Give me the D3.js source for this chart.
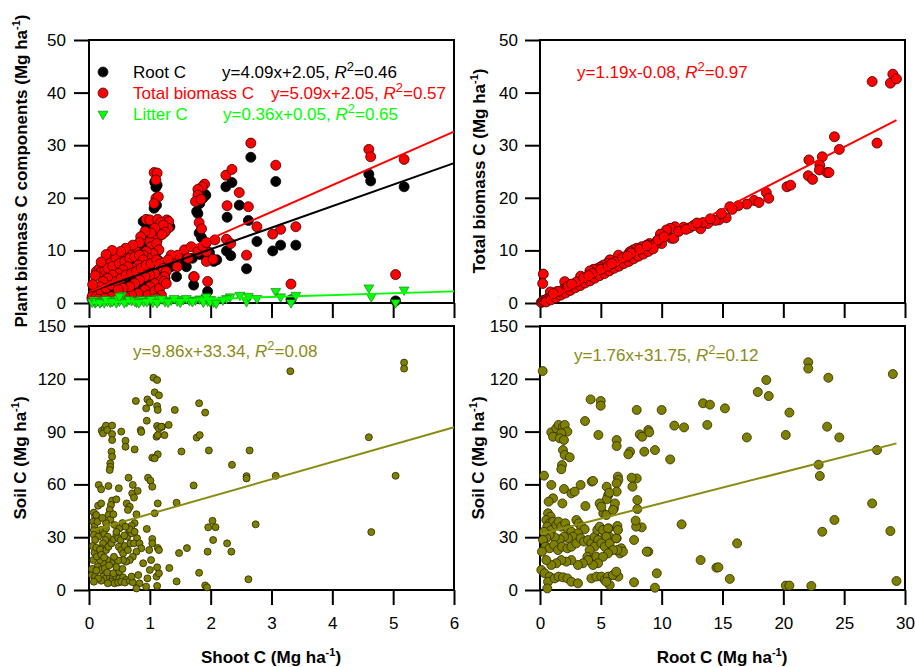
<!DOCTYPE html>
<html>
<head>
<meta charset="utf-8">
<script src="https://cdn.jsdelivr.net/npm/d3@7"></script>
<style>
  body { margin: 0; background: #fff; }
  text { font-family: Arial, "Liberation Sans", sans-serif; }
</style>
</head>
<body>
<svg id="chart" width="915" height="667"></svg>
<script>
// ---- data ----
// shoot C vs root C (black)
const shootRoot = [[2.66,27.7],[4.6,24.5],[4.63,23.2],[5.18,22.1],[3.07,23.1],[2.25,22.1],[2.35,22.9],[1.08,23.0],[1.12,22.4],[1.1,22.0],
  [1.07,18.0],[1.11,18.6],[1.77,17.4],[1.79,17.0],[1.92,20.5],[1.87,19.9],[1.82,18.9],[1.9,20.7],[2.47,18.6],[2.62,15.7],[2.27,16.3],
  [2.26,9.9],[2.33,9.0],[2.76,11.7],[3.4,11.0],[3.02,9.9],[3.15,11.0],[2.59,6.5],[1.72,3.4],[1.95,2.2],[3.32,0.6],[5.04,0.4],[1.44,5.0],
  [1.6,6.9],[1.22,5.0],[1.25,4.7],[0.89,15.5],[0.95,14.2],[0.95,15.5],[1.33,14.5],[1.81,13.3],[1.85,12.4],[1.83,9.2],[1.98,9.6],[2.05,7.9],
  [2.1,8.2],[1.96,9.0],[1.7,8.5],[1.55,8.7],[1.5,7.6],[1.35,6.9],[1.3,7.5],[1.15,8.0],[1.2,6.2],[1.1,9.5],[1.05,11.8],[1.12,13.5],[1.0,12.5],
  [0.9,10.8],[0.8,9.0],[0.7,8.2],[0.6,6.8],[0.5,6.0],[0.4,5.2],[0.3,4.0],[0.2,3.0],[0.1,1.8],[0.05,0.8],[0.15,2.5],[0.25,3.6],[0.35,4.5],
  [0.45,5.5],[0.55,6.3],[0.65,7.0],[0.75,7.8],[0.85,8.6],[0.95,9.5],[1.05,10.2],[0.2,1.2],[0.3,2.0],[0.4,2.8],[0.5,3.5],[0.6,4.2],[0.7,5.0],
  [0.8,5.5],[0.9,6.0],[1.0,7.0],[1.1,4.5],[0.98,3.8],[0.85,3.0],[0.7,2.2],[0.55,1.5],[0.4,1.0],[0.1,0.4]];

// shoot C vs total biomass C (red)
const shootTotal = [[2.66,30.4],[4.6,29.2],[4.63,27.8],[5.18,27.3],[3.07,26.2],[2.25,24.3],[2.35,25.4],[1.07,24.8],[1.12,24.7],[1.1,23.4],
  [1.1,19.9],[1.14,20.2],[1.07,18.9],[1.9,22.6],[1.86,22.1],[1.79,21.6],[1.79,20.5],[1.75,19.3],[1.84,19.7],[2.47,21.0],[2.62,18.3],
  [2.27,18.5],[2.76,14.5],[3.4,14.5],[3.15,14.0],[3.02,13.1],[1.81,15.3],[1.85,14.1],[1.92,11.3],[1.93,9.8],[2.26,12.1],[2.33,11.3],
  [2.59,9.1],[3.32,3.6],[5.04,5.4],[1.72,5.0],[1.95,4.1],[0.94,15.9],[1.0,15.8],[1.13,15.9],[1.28,15.8],[1.31,15.5],[1.3,14.2],[1.16,12.9],
  [1.12,12.0],[1.0,11.7],[1.02,10.7],[1.11,11.3],[1.15,10.1],[1.05,9.4],[0.94,9.8],[0.97,8.5],[0.89,9.1],[0.76,10.1],[0.67,9.1],[0.64,8.2],
  [0.54,8.5],[0.47,8.9],[0.34,8.5],[0.25,6.9],[0.15,5.3],[0.12,6.0],[0.32,8.0],[0.44,8.6],[0.21,5.1],[0.17,6.5],[1.42,8.2],[1.46,9.1],
  [1.57,10.1],[1.68,10.7],[1.79,9.8],[1.87,10.8],[1.93,11.5],[2.07,12.0],[1.93,7.9],[2.04,8.3],[1.73,5.0],[1.45,6.9],[1.63,8.5],[1.35,9.1],
  [1.3,8.2],[0.2,6.0],[0.26,6.3],[0.31,6.6],[0.39,7.0],[0.5,7.5],[0.59,7.9],[0.67,8.5],[0.75,8.8],[0.83,9.1],[0.89,8.2],[0.81,7.2],
  [0.72,6.6],[0.64,6.9],[0.56,6.3],[0.48,5.6],[0.39,5.3],[0.31,4.7],[0.23,4.1],[0.18,3.1],[0.09,2.5],[0.07,1.8],[0.05,1.2],[0.12,1.2],
  [0.2,2.2],[0.28,2.8],[0.37,3.4],[0.45,4.1],[0.53,4.7],[0.61,5.3],[0.7,5.6],[0.78,6.0],[0.86,6.6],[0.94,7.2],[1.02,7.5],[1.11,8.2],
  [1.16,7.4],[1.22,6.6],[1.27,6.0],[1.24,5.0],[1.16,4.4],[1.08,3.7],[1.0,3.1],[0.92,2.5],[0.81,1.8],[0.7,1.5],[0.59,1.2],[0.48,1.5],
  [0.37,1.2],[0.26,0.9],[0.15,0.7],[1.08,5.6],[1.0,5.3],[0.92,5.0],[0.83,4.4],[0.75,3.7],[0.67,3.1],[0.56,2.8],[0.48,2.5],[0.97,1.5],
  [1.08,2.2],[1.16,2.8],[1.23,4.1],[1.19,1.5],[1.11,0.9],[1.27,3.7],[1.18,15.3],[1.22,14.8],[1.25,13.5],[1.2,13.0],[1.08,14.2],[1.02,13.3],
  [0.92,13.6],[0.85,12.6],[0.83,11.5],[0.72,11.0],[0.6,10.4],[0.52,9.8],[0.38,10.0],[0.28,9.2],[0.2,7.8],[0.1,5.2],[0.06,3.5]];

// shoot C vs litter C (green)
const shootLitter = [[4.6,2.9],[4.64,1.2],[5.18,2.5],[5.04,0.1],[3.07,2.2],[3.15,1.2],[3.4,1.5],[3.32,0.1],[2.59,0.3],[2.62,1.3],[2.76,0.9],
  [2.48,1.5],[2.32,1.2],[2.26,0.9],[1.95,0.4],[2.05,0.2],[1.92,1.0],[1.82,0.8],[1.75,0.6],[1.65,0.5],[1.55,0.7],[1.45,0.4],[1.35,0.6],
  [1.25,0.3],[1.15,0.5],[1.1,0.9],[1.05,0.2],[0.98,0.6],[0.9,0.3],[0.85,0.7],[0.78,0.2],[0.7,0.5],[0.62,0.3],[0.54,1.5],[0.5,0.4],
  [0.45,0.1],[0.4,0.6],[0.35,0.2],[0.3,0.4],[0.25,0.1],[0.2,0.3],[0.15,0.5],[0.1,0.1],[0.05,0.2],[0.08,0.6],[0.12,0.3],[0.18,0.1],
  [0.28,0.7],[0.38,0.3],[0.48,0.8],[0.58,0.1],[0.66,0.7],[0.75,0.4],[0.82,0.1],[0.95,0.3],[1.02,0.7],[1.12,0.1],[1.2,0.8],[1.3,0.2],
  [1.4,0.9],[1.5,0.2],[1.6,0.9],[1.7,0.3],[1.88,0.2],[2.0,0.7],[2.1,0.4],[1.93,1.2],[1.99,0.25],[2.09,0.0],[2.2,0.6],[0.5,1.3]];

// root C vs total biomass C (red)
const rootTotal = [[27.3,42.1],[28.8,41.8],[29.0,43.5],[29.3,42.6],[27.7,30.4],[24.2,31.6],[24.6,29.2],[22.1,27.2],[23.2,27.8],[23.0,26.2],
  [22.96,25.3],[22.05,24.2],[22.4,23.5],[23.6,24.8],[23.75,24.8],[20.3,22.1],[20.6,22.4],[18.6,21.0],[18.8,19.9],[17.6,19.5],[18.0,19.1],
  [17.0,18.8],[15.6,18.3],[16.3,18.5],[15.3,16.2],[14.7,15.8],[14.4,15.7],[13.8,15.1],[13.2,14.1],[13.4,15.3],[12.3,14.3],[11.8,14.4],
  [11.1,14.5],[10.7,14.2],[10.8,12.3],[11.0,12.3],[10.4,13.9],[9.9,13.1],[10.0,11.3],[9.6,11.7],[9.0,11.3],[8.77,11.0],[8.36,10.7],
  [8.08,9.95],[7.95,10.4],[7.67,10.1],[7.4,9.76],[7.26,9.3],[7.67,8.8],[7.1,8.2],[6.85,8.5],[6.6,7.9],[6.45,9.1],[5.75,8.2],[5.5,7.5],
  [5.2,7.2],[4.93,6.8],[4.66,6.5],[4.4,6.4],[4.1,6.1],[3.34,5.1],[2.03,4.06],[0.27,5.5],[0.22,3.7],[0.85,2.1],[1.37,2.15],[1.97,2.7],
  [0.1,0.1],[0.2,0.3],[0.3,0.5],[0.4,0.4],[0.5,0.6],[0.6,0.8],[0.8,0.9],[1.0,1.2],[1.2,1.3],[1.4,1.6],[1.6,1.8],[1.8,2.0],[2.0,2.3],
  [2.2,2.5],[2.4,2.8],[2.6,3.0],[2.8,3.2],[3.0,3.4],[3.2,3.7],[3.4,3.9],[3.6,4.1],[3.8,4.4],[4.0,4.6],[4.2,4.8],[4.4,5.0],[4.6,5.3],
  [4.8,5.5],[5.0,5.8],[5.2,6.0],[5.4,6.2],[5.6,6.5],[5.8,6.7],[6.0,7.0],[6.2,7.2],[6.4,7.5],[6.7,7.8],[7.0,8.2],[7.3,8.5],[7.6,8.9],
  [7.9,9.3],[8.2,9.7],[8.5,10.0],[8.8,10.4],[9.2,10.9],[9.5,11.2],[0.5,0.2],[0.9,0.6],[1.3,1.0],[1.7,1.5],[2.1,1.9],[2.5,2.4],[2.9,2.9],
  [3.3,3.3],[3.7,3.8],[4.1,4.2],[4.5,4.7],[4.9,5.2],[5.3,5.6],[5.7,6.1],[6.1,6.6],[6.5,7.0],[6.9,7.5],[7.3,7.9],[7.7,8.4],[8.1,8.9],
  [8.5,9.3],[8.9,9.8],[9.3,10.3],[1.5,2.2],[2.3,3.2],[3.0,4.0],[3.6,4.8],[4.3,5.6],[5.0,6.4],[5.6,7.0],[6.2,7.8],[6.8,8.6],[7.5,9.5],
  [8.2,10.2],[8.8,10.9],[1.1,1.8],[2.6,3.6],[4.0,5.2],[5.9,7.5],[7.2,8.9],[9.7,12.0],[10.2,12.6],[11.4,13.6],[12.0,14.0],[12.6,14.7],
  [12.9,15.2],[14.0,16.0],[14.9,17.0],[15.8,17.8]];

// shoot C vs soil C
const shootSoil = [[3.31,124.3],[5.18,129.2],[5.18,125.8],[4.6,86.8],[5.04,64.9],[4.64,32.9],[3.07,64.9],[2.35,71.1],[2.64,79.3],[2.59,64.7],
  [2.59,63.4],[2.74,37.3],[2.62,6.1],[2.27,26.5],[2.34,21.8],[2.04,28.4],[2.03,39.3],[2.08,35.7],[1.96,35.6],[1.95,21.8],[1.91,2.6],
  [1.94,1.5],[1.81,9.8],[1.97,79.3],[1.91,100.8],[1.81,106.1],[1.77,86.6],[1.82,88.0],[1.72,59.4],[1.61,23.8],[1.48,21.0],[1.44,4.9],
  [1.44,49.6],[1.52,78.7],[1.41,102.3],[1.31,93.8],[1.24,88.0],[1.2,92.7],[1.32,12.5],[1.06,120.6],[1.12,119.3],[1.08,112.3],[1.15,110.6],
  [0.77,107.4],[0.96,108.3],[1.0,106.6],[0.94,103.2],[1.12,104.5],[1.13,102.3],[0.95,96.2],[0.85,90.9],[0.86,89.8],[1.12,93.2],[1.15,91.7],
  [1.19,92.8],[1.11,87.1],[1.13,88.0],[1.04,75.2],[1.13,77.1],[1.08,74.8],[0.21,90.5],[0.26,91.9],[0.28,93.4],[0.38,93.4],[0.23,89.0],
  [0.3,90.9],[0.38,88.6],[0.38,85.2],[0.53,90.0],[0.6,84.8],[0.6,81.4],[0.75,79.9],[0.37,78.6],[0.38,75.8],[0.35,72.0],[0.35,70.0],
  [0.34,68.2],[0.97,63.8],[1.01,62.1],[1.04,58.7],[0.65,63.8],[0.16,59.7],[0.2,57.2],[0.32,59.1],[0.49,57.8],[0.72,59.7],[0.71,54.9],
  [0.8,56.3],[0.74,52.5],[0.38,50.8],[0.36,48.3],[0.34,45.5],[0.45,51.5],[0.32,42.6],[1.13,49.2],[1.08,43.6],[0.62,49.2],[0.67,47.3],
  [0.64,45.5],[0.95,34.7],[1.04,29.0],[0.78,43.0],[0.75,38.0],[0.7,36.5],[0.66,33.0],[0.2,34.1],[0.25,31.8],[0.28,35.0],[0.31,30.3],
  [0.27,28.4],[0.23,26.5],[0.2,23.7],[0.28,22.7],[0.32,24.6],[0.37,26.5],[0.41,28.8],[0.45,31.3],[0.48,29.4],[0.52,28.4],[0.49,24.6],
  [0.53,22.7],[0.59,25.0],[0.56,20.8],[0.64,22.7],[0.68,26.5],[0.63,30.3],[0.7,32.2],[0.67,34.5],[0.75,33.1],[0.79,29.4],[0.74,26.5],
  [0.83,26.5],[0.86,23.7],[0.78,21.8],[0.72,18.9],[0.67,17.0],[0.61,16.1],[0.56,17.0],[0.48,16.7],[0.41,18.9],[0.37,15.2],[0.3,17.0],
  [0.23,15.2],[0.18,17.0],[0.14,13.3],[0.19,11.4],[0.26,12.3],[0.23,7.6],[0.28,6.6],[0.34,7.6],[0.39,6.6],[0.45,7.6],[0.5,6.6],[0.56,7.2],
  [0.61,5.7],[0.37,4.7],[0.42,3.8],[0.48,4.2],[0.53,4.7],[0.59,4.2],[0.67,5.3],[0.2,5.3],[0.31,3.8],[0.72,4.4],[0.83,3.8],[0.78,0.9],
  [0.94,1.9],[0.96,6.6],[1.12,2.3],[1.11,7.6],[1.15,9.5],[1.12,12.9],[1.02,17.0],[1.13,23.9],[1.15,22.7],[0.7,7.6],[0.81,8.5],[1.0,11.4],
  [0.89,15.2],[1.04,26.5],[0.99,22.7],[0.08,44.0],[0.1,41.7],[0.07,38.8],[0.09,36.0],[0.14,38.8],[0.08,34.0],[0.12,33.0],[0.08,31.3],
  [0.15,30.3],[0.1,28.4],[0.09,21.2],[0.07,17.0],[0.05,8.5],[0.1,7.6],[0.15,6.6],[0.08,4.7],[0.15,47.9],[0.12,42.6],[0.2,49.2],[0.06,25.0],
  [0.12,24.0],[0.18,23.0],[0.13,19.0],[0.2,20.0],[0.25,18.5],[0.05,12.0],[0.12,11.0],[0.3,10.0],[0.4,9.5],[0.5,10.5],[0.55,12.0],[0.45,13.0],
  [0.33,14.0],[0.42,37.0],[0.5,35.0],[0.55,38.0],[0.6,36.0],[0.35,40.0],[0.45,33.0],[0.58,31.0],[0.28,38.0],[0.22,41.0],[0.4,43.0]];

// root C vs soil C
const rootSoil = [[0.22,124.4],[22.05,129.4],[22.05,125.8],[29.0,122.7],[23.7,120.6],[18.6,119.3],[18.8,110.2],[17.9,112.5],[4.16,108.3],
  [4.99,107.4],[4.99,104.7],[3.7,96.0],[7.95,102.3],[10.0,102.3],[13.4,106.1],[13.97,105.3],[15.2,103.2],[20.5,100.8],[11.04,93.4],
  [11.84,92.4],[13.75,93.8],[23.6,92.8],[20.2,88.1],[17.0,86.7],[24.6,86.7],[10.7,74.2],[8.2,88.4],[8.4,87.1],[8.9,90.9],[8.98,89.6],
  [4.8,88.1],[6.3,85.2],[6.3,81.8],[7.4,78.6],[7.26,77.1],[8.57,78.6],[9.45,79.5],[27.7,79.5],[22.9,71.2],[23.0,64.8],[27.3,49.2],
  [24.2,39.8],[23.2,33.1],[28.8,33.5],[29.3,5.1],[20.2,2.5],[20.5,2.5],[22.3,2.3],[15.6,6.3],[16.2,26.5],[14.5,12.7],[14.66,12.9],
  [13.2,17.0],[11.64,37.3],[9.6,9.5],[9.45,1.3],[8.9,21.8],[8.77,21.8],[8.36,35.6],[7.9,36.0],[7.86,39.4],[7.73,28.4],[8.0,51.1],
  [7.95,63.4],[7.53,63.8],[7.6,58.7],[8.0,46.0],[7.73,4.4],[6.4,64.4],[6.44,62.5],[6.3,60.6],[6.36,36.4],[6.3,29.4],[6.44,22.7],[6.58,20.8],
  [6.3,8.5],[6.44,7.6],[6.08,46.4],[6.16,49.2],[6.3,55.9],[5.48,58.7],[5.6,53.8],[5.48,51.5],[5.7,55.3],[5.64,35.0],[5.37,31.3],[5.7,30.3],
  [5.2,43.6],[4.25,61.6],[0.93,89.6],[1.07,87.1],[1.34,91.9],[1.53,93.8],[1.89,92.8],[2.03,93.8],[2.25,90.0],[1.75,89.0],[1.62,86.2],
  [1.97,85.2],[1.89,79.5],[2.03,76.7],[2.44,75.4],[1.81,71.0],[1.75,68.6],[0.33,65.0],[0.93,59.7],[1.07,52.1],[0.71,50.2],[1.97,57.4],
  [1.84,49.2],[2.58,54.9],[2.85,55.9],[3.34,59.7],[4.36,62.0],[3.73,47.7],[4.9,49.2],[5.04,47.3],[5.45,42.6],[6.0,45.5],[0.66,43.6],
  [0.88,41.7],[0.52,39.8],[0.79,37.9],[1.07,38.8],[0.6,36.0],[0.93,34.1],[1.34,36.9],[1.53,38.8],[1.75,36.0],[2.08,37.9],[2.3,34.5],
  [2.58,33.1],[2.99,39.8],[3.18,37.9],[3.4,36.0],[3.67,34.5],[3.12,32.2],[2.71,30.3],[2.3,29.4],[1.97,30.3],[1.62,28.8],[1.21,29.9],
  [0.79,31.3],[0.52,29.4],[0.33,33.1],[0.25,28.4],[0.44,24.6],[0.79,23.7],[1.15,25.6],[1.48,22.7],[1.81,24.6],[2.25,23.7],[2.58,24.6],
  [2.99,26.5],[3.34,29.4],[3.62,27.5],[3.95,28.4],[4.22,26.5],[4.49,30.3],[4.71,34.1],[4.9,36.0],[5.18,34.1],[5.59,35.0],[5.45,30.3],
  [4.77,28.4],[4.49,24.6],[4.08,22.7],[3.89,18.9],[4.22,17.0],[4.63,18.9],[5.04,26.5],[5.32,24.6],[5.73,26.5],[6.27,29.4],[6.41,34.1],
  [6.68,23.7],[6.82,21.8],[6.36,22.7],[6.0,22.7],[5.59,20.8],[5.18,18.9],[4.77,15.2],[4.36,14.2],[3.95,17.0],[3.53,15.2],[3.12,14.2],
  [2.58,17.0],[2.16,16.1],[1.75,17.0],[1.34,15.2],[0.93,14.2],[0.52,17.0],[0.16,21.8],[0.11,11.4],[0.38,9.5],[0.79,7.6],[0.66,4.7],
  [0.6,0.9],[1.21,6.6],[1.53,7.6],[1.89,7.2],[2.25,6.6],[2.58,4.7],[3.12,3.8],[4.22,6.6],[4.63,7.6],[5.04,7.6],[5.32,5.7],[5.59,7.6],
  [6.0,8.5],[6.27,10.4],[5.73,2.8],[5.45,4.7]];

// regression fits: [slope, intercept, R2]
const rootFit = [4.09, 2.05, 0.46];
const totalFit = [5.09, 2.05, 0.57];
const litterFit = [0.36, 0.05, 0.65];
const rootTotalFit = [1.19, -0.08, 0.97];
const shootSoilFit = [9.86, 33.34, 0.08];
const rootSoilFit = [1.76, 31.75, 0.12];

const legendLabels = ["Root C", "Total biomass C", "Litter C"];
const shootTicks = [0, 1, 2, 3, 4, 5, 6];
const rootTicks = [0, 5, 10, 15, 20, 25, 30];
const biomassTicks = [0, 10, 20, 30, 40, 50];
const soilTicks = [0, 30, 60, 90, 120, 150];

// ---- drawing ----
const svg = d3.select("#chart");
const RED = "#ff0000", GREEN = "#00ff00", OLIVE = "#808000", OLIVE_TXT = "#8b8b14";
const f2 = d3.format(".2f");

function panel(p) {
  const x = d3.scaleLinear().domain(d3.extent(p.xTicks)).range([p.left, p.right]);
  const y = d3.scaleLinear().domain(d3.extent(p.yTicks)).range([p.bottom, p.top]);
  const g = svg.append("g");

  const ya = g.append("g").attr("transform", `translate(${p.left},0)`)
    .call(d3.axisLeft(y).tickValues(p.yTicks).tickSize(15).tickSizeOuter(0).tickPadding(p.pad));
  const xa = g.append("g").attr("transform", `translate(0,${p.bottom})`)
    .call(d3.axisBottom(x).tickValues(p.xTicks).tickSize(15).tickSizeOuter(0).tickPadding(12)
      .tickFormat(p.xLabels ? d3.format("d") : ""));
  [ya, xa].forEach(a => {
    a.select(".domain").remove();
    a.selectAll("line").attr("stroke", "#000").attr("stroke-width", 2);
    a.selectAll("text").attr("fill", "#000").style("font-size", "17px")
      .style("font-family", "Arial, 'Liberation Sans', sans-serif");
  });

  g.append("rect").attr("x", p.left).attr("y", p.top)
    .attr("width", p.right - p.left).attr("height", p.bottom - p.top)
    .attr("fill", "none").attr("stroke", "#000").attr("stroke-width", 2);
  return { x, y, g };
}

function dots(pn, data, r, fill, stroke) {
  pn.g.append("g").selectAll("circle").data(data).join("circle")
    .attr("cx", d => pn.x(d[0])).attr("cy", d => pn.y(d[1])).attr("r", r)
    .attr("fill", fill).attr("stroke", stroke).attr("stroke-width", 0.8);
}

function triangles(pn, data, color) {
  const sym = d3.symbol().type(d3.symbolTriangle).size(42);
  pn.g.append("g").selectAll("path").data(data).join("path")
    .attr("d", sym)
    .attr("transform", d => `translate(${pn.x(d[0])},${pn.y(d[1])}) rotate(180)`)
    .attr("fill", color).attr("stroke", "#1a6b1a").attr("stroke-width", 0.6);
}

function fitLine(pn, fit, x0, x1, color) {
  pn.g.append("path")
    .datum([x0, x1])
    .attr("d", d3.line().x(d => pn.x(d)).y(d => pn.y(fit[0] * d + fit[1])))
    .attr("stroke", color).attr("stroke-width", 2).attr("fill", "none");
}

function equation(x, y, fit, color) {
  const sign = fit[1] < 0 ? "-" : "+";
  const t = svg.append("text").attr("x", x).attr("y", y).attr("fill", color)
    .style("font-size", "17px").style("white-space", "pre");
  t.append("tspan").text(`y=${f2(fit[0])}x${sign}${f2(Math.abs(fit[1]))}, `);
  t.append("tspan").style("font-style", "italic").text("R");
  t.append("tspan").attr("dy", -7).style("font-size", "13px").text("2");
  t.append("tspan").attr("dy", 7).text("=" + f2(fit[2]));
}

function unitTitle(sel, label) {
  sel.append("tspan").text(label + " (Mg ha");
  sel.append("tspan").attr("dy", -7).style("font-size", "11px").text("-1");
  sel.append("tspan").attr("dy", 7).text(")");
}

function yTitle(x, y, label) {
  const t = svg.append("text").attr("transform", `translate(${x},${y}) rotate(-90)`)
    .attr("text-anchor", "middle").style("font-size", "17px").style("font-weight", "bold");
  unitTitle(t, label);
}

function xTitle(x, y, label) {
  const t = svg.append("text").attr("x", x).attr("y", y)
    .attr("text-anchor", "middle").style("font-size", "17px").style("font-weight", "bold");
  unitTitle(t, label);
}

// top-left: plant biomass components vs shoot C
const tl = panel({ left: 89, right: 454, top: 40, bottom: 303, xTicks: shootTicks, yTicks: biomassTicks, xLabels: false, pad: 8 });
dots(tl, shootRoot, 5, "#000", "#000");
dots(tl, shootTotal, 5, RED, "#3a0000");
triangles(tl, shootLitter, GREEN);
fitLine(tl, rootFit, 0.05, 6, "#000");
fitLine(tl, totalFit, 0.05, 6, RED);
fitLine(tl, litterFit, 0.05, 6, GREEN);

// legend
const legendColors = ["#000", RED, GREEN];
const legendRows = [72, 93, 114];
legendLabels.forEach((lab, i) => {
  if (i < 2) {
    svg.append("circle").attr("cx", 103).attr("cy", legendRows[i]).attr("r", 5)
      .attr("fill", legendColors[i]).attr("stroke", "#222").attr("stroke-width", 0.8);
  } else {
    svg.append("path").attr("d", d3.symbol().type(d3.symbolTriangle).size(42))
      .attr("transform", `translate(103,${legendRows[i]}) rotate(180)`)
      .attr("fill", GREEN).attr("stroke", "#1a6b1a").attr("stroke-width", 0.6);
  }
  svg.append("text").attr("x", 133).attr("y", legendRows[i] + 6)
    .attr("fill", i === 0 ? "#000" : legendColors[i]).style("font-size", "17px").text(lab);
});
equation(222, 78, rootFit, "#000");
equation(271, 99, totalFit, RED);
equation(223, 120, litterFit, GREEN);
yTitle(27, 171, "Plant biomass C components");

// top-right: total biomass vs root C
const tr = panel({ left: 540, right: 905, top: 40, bottom: 303, xTicks: rootTicks, yTicks: biomassTicks, xLabels: false, pad: 7 });
dots(tr, rootTotal, 5, RED, "#3a0000");
fitLine(tr, rootTotalFit, 0.05, d3.max(rootTotal, d => d[0]), RED);
equation(577, 78, rootTotalFit, RED);
yTitle(485, 171, "Total biomass C");

// bottom-left: soil C vs shoot C
const bl = panel({ left: 89, right: 454, top: 326, bottom: 590, xTicks: shootTicks, yTicks: soilTicks, xLabels: true, pad: 8 });
dots(bl, shootSoil, 3.5, OLIVE, "#2b2b00");
fitLine(bl, shootSoilFit, 0.05, 6, OLIVE_TXT);
equation(133, 357, shootSoilFit, OLIVE_TXT);
yTitle(26, 458, "Soil C");
xTitle(271, 663, "Shoot C");

// bottom-right: soil C vs root C
const br = panel({ left: 540, right: 905, top: 326, bottom: 590, xTicks: rootTicks, yTicks: soilTicks, xLabels: true, pad: 7 });
dots(br, rootSoil, 4.5, OLIVE, "#2b2b00");
fitLine(br, rootSoilFit, 0.05, d3.max(rootSoil, d => d[0]), OLIVE_TXT);
equation(574, 361, rootSoilFit, OLIVE_TXT);
yTitle(484, 458, "Soil C");
xTitle(722, 663, "Root C");
</script>
</body>
</html>
